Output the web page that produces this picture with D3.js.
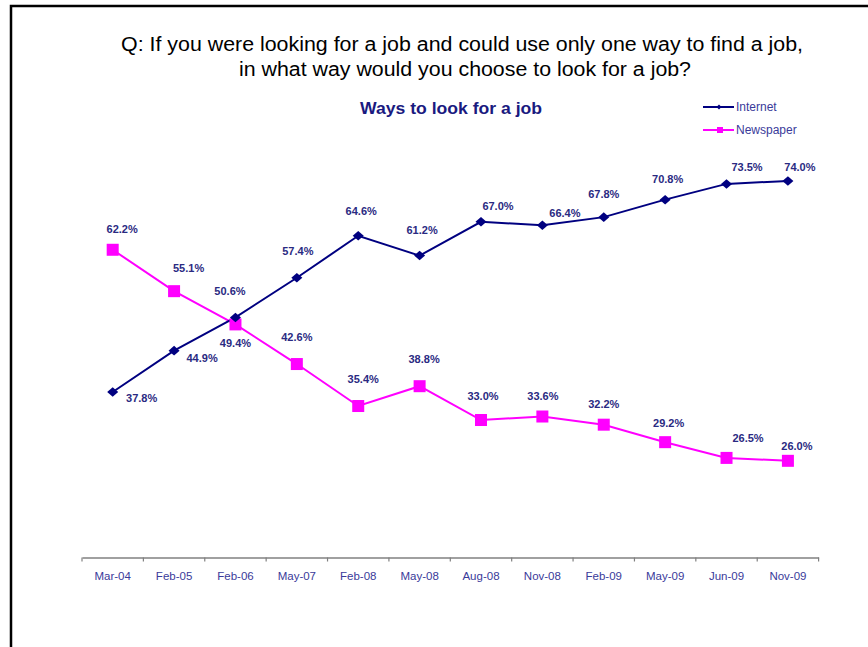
<!DOCTYPE html>
<html><head><meta charset="utf-8">
<script src="https://cdn.jsdelivr.net/npm/d3@7"></script>
<style>body{margin:0;background:#fff}svg{display:block}</style>
</head><body>
<svg id="c" width="868" height="647"></svg>
<script>
const categories = ["Mar-04","Feb-05","Feb-06","May-07","Feb-08","May-08","Aug-08","Nov-08","Feb-09","May-09","Jun-09","Nov-09"];
const internet = [37.8,44.9,50.6,57.4,64.6,61.2,67.0,66.4,67.8,70.8,73.5,74.0];
const newspaper = [62.2,55.1,49.4,42.6,35.4,38.8,33.0,33.6,32.2,29.2,26.5,26.0];
const seriesNames = ["Internet","Newspaper"];
// label offsets from the marker to the label centre (styling)
const internetLabelOffset = [[29,5.5],[28,7],[-5.5,-26],[1,-27],[3,-25],[2.5,-26],[17,-16],[22.5,-12],[0,-23],[2.5,-20.5],[20.5,-17],[12,-14]];
const newspaperLabelOffset = [[9.5,-21],[14.5,-23],[0,19],[0,-27.5],[5,-27.5],[4.5,-26.7],[2,-24],[0.5,-20.5],[0,-21],[3.5,-19],[21.5,-20],[9,-15]];

const FONT = "Liberation Sans, Arial, sans-serif";
const svg = d3.select("#c");
svg.append("rect").attr("x",11).attr("y",6).attr("width",900).attr("height",700)
  .attr("fill","none").attr("stroke","#000").attr("stroke-width",2.5);

svg.append("text").attr("x",462).attr("y",51).attr("text-anchor","middle")
  .attr("font-family",FONT).attr("font-size",20).attr("fill","#000")
  .attr("textLength",682).attr("lengthAdjust","spacingAndGlyphs")
  .text("Q: If you were looking for a job and could use only one way to find a job,");
svg.append("text").attr("x",465).attr("y",76).attr("text-anchor","middle")
  .attr("font-family",FONT).attr("font-size",20).attr("fill","#000")
  .attr("textLength",452).attr("lengthAdjust","spacingAndGlyphs")
  .text("in what way would you choose to look for a job?");
svg.append("text").attr("x",451).attr("y",114).attr("text-anchor","middle")
  .attr("font-family",FONT).attr("font-size",16).attr("font-weight","bold").attr("fill","#1a1a80")
  .attr("textLength",182).attr("lengthAdjust","spacingAndGlyphs")
  .text("Ways to look for a job");

const x = d3.scaleBand().domain(categories).range([82,818.6]);
const y = d3.scaleLinear().domain([10,80]).range([554.1,146]);

const axis = d3.axisBottom(x).tickSize(0).tickPadding(14);
const ax = svg.append("g").attr("transform","translate(0,557.5)").call(axis);
ax.select(".domain").attr("stroke","#808080").attr("stroke-width",1.5);
ax.selectAll("text").attr("font-family",FONT).attr("font-size",11.5).attr("fill","#3a3a9a");
// boundary ticks
const bounds = categories.map(c=>x(c)).concat([x.range()[1]]);
svg.append("g").selectAll("line").data(bounds).join("line")
  .attr("x1",d=>d).attr("x2",d=>d).attr("y1",557.5).attr("y2",561.5)
  .attr("stroke","#808080").attr("stroke-width",1.2);

const cx = c => x(c) + x.bandwidth()/2;
const colors = {Internet:"#000080", Newspaper:"#ff00ff"};
const line = d3.line().x((d,i)=>cx(categories[i])).y(d=>y(d));

svg.append("path").datum(newspaper).attr("d",line).attr("fill","none").attr("stroke",colors.Newspaper).attr("stroke-width",2);
svg.append("path").datum(internet).attr("d",line).attr("fill","none").attr("stroke",colors.Internet).attr("stroke-width",2);

svg.append("g").selectAll("rect").data(newspaper).join("rect")
  .attr("x",(d,i)=>cx(categories[i])-6).attr("y",d=>y(d)-6).attr("width",12).attr("height",12)
  .attr("fill",colors.Newspaper);
const diamond = d3.symbol().type(d3.symbolDiamond2).size(64);
svg.append("g").selectAll("path").data(internet).join("path")
  .attr("d",diamond).attr("transform",(d,i)=>`translate(${cx(categories[i])},${y(d)}) scale(1.1,0.95)`)
  .attr("fill",colors.Internet);

function labels(data, off){
  svg.append("g").selectAll("text").data(data).join("text")
    .attr("x",(d,i)=>cx(categories[i])+off[i][0]).attr("y",(d,i)=>y(d)+off[i][1]+4)
    .attr("text-anchor","middle").attr("font-family",FONT)
    .attr("font-size",11).attr("font-weight","bold").attr("fill","#2a2a82")
    .text(d=>d.toFixed(1)+"%");
}
labels(internet, internetLabelOffset);
labels(newspaper, newspaperLabelOffset);

// legend
const lg = svg.append("g");
seriesNames.forEach((s,i)=>{
  const ly = 107 + i*23;
  lg.append("line").attr("x1",703).attr("x2",734).attr("y1",ly).attr("y2",ly).attr("stroke",colors[s]).attr("stroke-width",2);
  if(s==="Internet"){
    lg.append("path").attr("d",d3.symbol().type(d3.symbolDiamond2).size(16)).attr("transform",`translate(719,${ly})`).attr("fill",colors[s]);
  } else {
    lg.append("rect").attr("x",717).attr("y",ly-3).attr("width",6).attr("height",6).attr("fill",colors[s]);
  }
  lg.append("text").attr("x",736).attr("y",ly+4).attr("font-family",FONT)
    .attr("font-size",12).attr("fill","#3a3a9a").text(s);
});
</script>
</body></html>
